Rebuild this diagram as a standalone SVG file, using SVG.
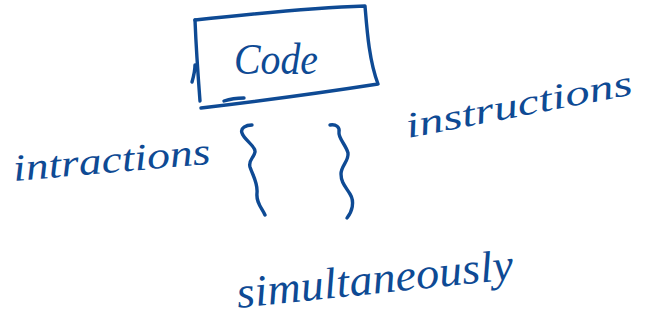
<svg xmlns="http://www.w3.org/2000/svg" width="645" height="324" viewBox="0 0 645 324">
  <style>
    .ink { fill: none; stroke: #0e4a94; stroke-width: 3.4; stroke-linecap: round; stroke-linejoin: round; }
    .hand { fill: #0e4a94; font-family: "Liberation Serif", "DejaVu Serif", serif; font-style: italic; }
  </style>
  <rect width="645" height="324" fill="#ffffff"/>

  <!-- box holding the code -->
  <g id="code">
    <path class="ink" d="M195,20 C250,14 310,8 365,6 C367,30 369,60 378,84 C320,93 260,101 201,108"/>
    <path class="ink" d="M195,20 C196,45 198,75 200,101 M192,82 C194,75 195,70 195,65"/>
    <path class="ink" d="M224,101 C230,99 237,98 244,98"/>
    <text class="hand" x="234" y="74" font-size="44" textLength="84" lengthAdjust="spacingAndGlyphs">Code</text>
  </g>

  <!-- left label -->
  <g id="label-left">
    <text class="hand" x="14" y="181" font-size="38" textLength="198" lengthAdjust="spacingAndGlyphs" transform="rotate(-5 14 181)">intractions</text>
  </g>

  <!-- right label -->
  <g id="label-right">
    <text class="hand" x="408" y="138" font-size="36" textLength="230" lengthAdjust="spacingAndGlyphs" transform="rotate(-11 408 138)">instructions</text>
  </g>

  <!-- bottom label -->
  <g id="label-bottom">
    <text class="hand" x="238" y="308" font-size="44" textLength="278" lengthAdjust="spacingAndGlyphs" transform="rotate(-6 238 308)">simultaneously</text>
  </g>

  <!-- wavy braces -->
  <g id="connectors">
    <path class="ink" d="M252,125 C246,125 240,128 242,133 C244,140 256,146 255,152 C254,158 248,160 250,167 C253,176 258,183 257,193 C256,203 262,208 265,215"/>
    <path class="ink" d="M330,125 C336,124 340,127 339,132 C338,138 346,145 348,153 C349,161 341,166 341,174 C341,182 345,186 350,194 C355,202 352,212 347,218"/>
  </g>
</svg>
